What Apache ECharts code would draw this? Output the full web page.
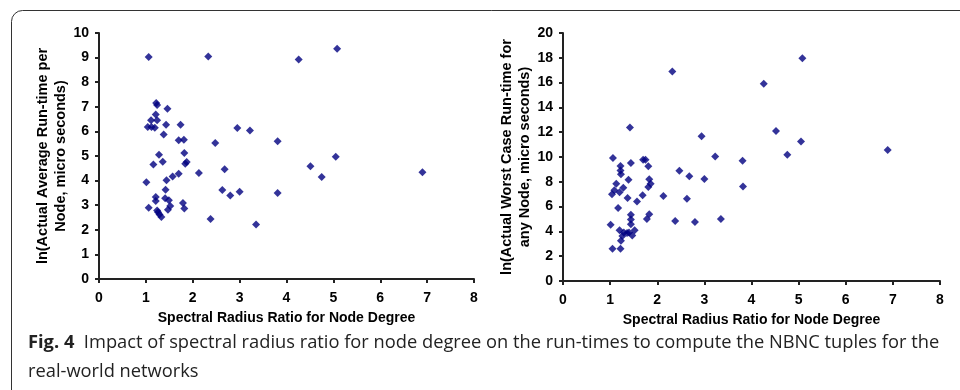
<!DOCTYPE html>
<html>
<head>
<meta charset="utf-8">
<script src="https://cdn.jsdelivr.net/npm/echarts@6/dist/echarts.min.js"></script>
<style>
  html, body { margin: 0; padding: 0; background: #fff; }
  #chart { width: 960px; height: 390px; }
</style>
</head>
<body>
<div id="chart"></div>
<script>
// spectral radius ratio (x) and ln(actual average run-time per node) (y), left panel
const avgRatio = [1.06, 1.22, 1.24, 1.46, 1.21, 1.11, 1.24, 1.43, 1.74, 1.04, 1.12, 1.19, 1.38, 1.70, 1.81,
  1.82, 1.28, 1.36, 1.16, 1.84, 1.87, 1.70, 1.57, 1.44, 1.01, 1.42, 1.21, 1.21, 1.41, 1.49, 1.52, 1.79, 1.82,
  1.06, 1.47, 1.24, 1.26, 1.29, 1.33, 2.13, 2.33, 4.26, 5.08, 2.95, 3.22, 2.48, 3.81, 5.05, 2.68, 4.51, 4.75,
  6.90, 2.63, 2.80, 3.00, 3.81, 2.38, 3.35];
const avgRuntime = [9.02, 7.15, 7.07, 6.92, 6.69, 6.45, 6.45, 6.27, 6.27, 6.18, 6.18, 6.15, 5.87, 5.64, 5.66,
  5.12, 5.05, 4.77, 4.65, 4.69, 4.76, 4.28, 4.17, 4.01, 3.93, 3.63, 3.33, 3.17, 3.28, 3.20, 2.97, 3.09, 2.87,
  2.90, 2.82, 2.78, 2.71, 2.62, 2.52, 4.31, 9.04, 8.92, 9.36, 6.14, 6.04, 5.53, 5.60, 4.97, 4.46, 4.58, 4.15,
  4.34, 3.62, 3.39, 3.55, 3.50, 2.44, 2.22];

// spectral radius ratio (x) and ln(actual worst case run-time for any node) (y), right panel
const worstRatio = [1.42, 1.06, 1.22, 1.22, 1.23, 1.44, 1.70, 1.75, 1.81, 1.39, 1.83, 1.86, 1.81, 1.13, 1.28,
  1.09, 1.04, 1.20, 1.37, 1.57, 1.69, 2.13, 1.17, 1.44, 1.44, 1.44, 1.83, 1.78, 1.01, 1.20, 1.29, 1.36, 1.40,
  1.52, 1.47, 1.26, 1.23, 1.05, 1.22, 2.32, 4.26, 5.08, 2.94, 4.52, 5.05, 6.89, 3.23, 3.81, 4.76, 2.47, 2.68,
  3.00, 3.82, 2.63, 2.38, 2.80, 3.35];
const worstRuntime = [12.37, 9.92, 9.27, 8.92, 8.60, 9.52, 9.78, 9.78, 9.25, 8.17, 8.20, 7.85, 7.58, 7.85, 7.53,
  7.31, 6.99, 7.15, 6.69, 6.42, 6.91, 6.85, 5.89, 5.35, 4.95, 4.57, 5.38, 5.00, 4.54, 4.09, 3.92, 3.88, 3.92,
  4.09, 3.66, 3.62, 3.25, 2.60, 2.60, 16.90, 15.90, 17.96, 11.67, 12.10, 11.26, 10.56, 10.05, 9.70, 10.19, 8.90, 8.44,
  8.23, 7.63, 6.64, 4.83, 4.76, 5.00];

const xTitle = 'Spectral Radius Ratio for Node Degree';
const leftYTitle = 'ln(Actual Average Run-time per\nNode, micro seconds)';
const rightYTitle = 'ln(Actual Worst Case Run-time for\nany Node, micro seconds)';
const captionBold = 'Fig. 4';
const captionLine1 = 'Impact of spectral radius ratio for node degree on the run-times to compute the NBNC tuples for the';
const captionLine2 = 'real-world networks';

const pairs = (xs, ys) => xs.map((x, i) => [x, ys[i]]);

const axisColor = '#222';
const labelFont = { fontFamily: 'Liberation Sans, Arial', fontWeight: 'bold', fontSize: 14, color: '#000' };

function xAxis(gridIndex) {
  return {
    gridIndex: gridIndex,
    type: 'value',
    min: 0, max: 8, interval: 1,
    name: xTitle,
    nameLocation: 'middle',
    nameGap: 32,
    nameTextStyle: { fontFamily: 'Liberation Sans, Arial', fontWeight: 'bold', fontSize: 14, color: '#000' },
    axisLine: { show: true, onZero: false, lineStyle: { color: axisColor, width: 2 } },
    axisTick: { show: true, inside: false, length: 4, lineStyle: { color: axisColor, width: 2 } },
    axisLabel: Object.assign({ margin: 12 }, labelFont),
    splitLine: { show: false }
  };
}

function yAxis(gridIndex, max, interval, title, gap) {
  return {
    gridIndex: gridIndex,
    type: 'value',
    min: 0, max: max, interval: interval,
    name: title,
    nameLocation: 'middle',
    nameRotate: 90,
    nameGap: gap,
    nameTextStyle: { fontFamily: 'Liberation Sans, Arial', fontWeight: 'bold', fontSize: 14.5, lineHeight: 18, color: '#000' },
    axisLine: { show: true, onZero: false, lineStyle: { color: axisColor, width: 2 } },
    axisTick: { show: true, inside: false, length: 4, lineStyle: { color: axisColor, width: 2 } },
    axisLabel: Object.assign({ margin: 10 }, labelFont),
    splitLine: { show: false }
  };
}

const myChart = echarts.init(document.getElementById('chart'), null, { renderer: 'canvas' });
const option = {
  backgroundColor: '#fff',
  animation: false,
  grid: [
    { left: 99, top: 33, width: 375, height: 246 },
    { left: 563, top: 33, width: 377, height: 248 }
  ],
  xAxis: [xAxis(0), xAxis(1)],
  yAxis: [yAxis(0, 10, 1, leftYTitle, 29), yAxis(1, 20, 2, rightYTitle, 20)],
  series: [
    {
      type: 'scatter', xAxisIndex: 0, yAxisIndex: 0,
      symbol: 'diamond', symbolSize: 8,
      itemStyle: { color: '#000080' },
      data: pairs(avgRatio, avgRuntime)
    },
    {
      type: 'scatter', xAxisIndex: 1, yAxisIndex: 1,
      symbol: 'diamond', symbolSize: 8,
      itemStyle: { color: '#000080' },
      data: pairs(worstRatio, worstRuntime)
    }
  ],
  graphic: [
    {
      type: 'rect',
      shape: { x: 11.5, y: 10.5, width: 1200, height: 1000, r: [11, 0, 0, 0] },
      style: { fill: 'none', stroke: '#333', lineWidth: 1 },
      silent: true
    },
    {
      type: 'text',
      left: 28, top: 334,
      style: {
        text: '{b|' + captionBold + '}  ' + captionLine1,
        font: '18.3px "Open Sans"',
        fill: '#222',
        rich: {
          b: { fontFamily: 'Open Sans', fontWeight: 'bold', fontSize: 18.3, fill: '#222' }
        }
      }
    },
    {
      type: 'text',
      left: 28, top: 363,
      style: { text: captionLine2, font: '18.3px "Open Sans"', fill: '#222' }
    }
  ]
};
window.onresize = () => {
  myChart.resize();
};
myChart.setOption(option);
</script>
</body>
</html>
